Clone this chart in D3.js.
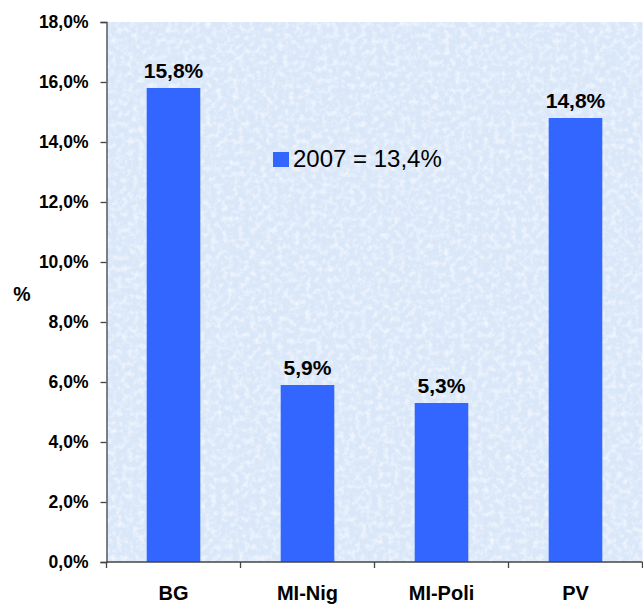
<!DOCTYPE html>
<html><head><meta charset="utf-8">
<script src="https://cdn.jsdelivr.net/npm/d3@7"></script>
<style>body{margin:0;background:#fff;} svg{display:block;font-family:"Liberation Sans",Arial,sans-serif;}</style>
</head><body>
<svg id="chart" width="643" height="604"></svg>
<script>
const categories = ["BG", "MI-Nig", "MI-Poli", "PV"];
const values = [15.8, 5.9, 5.3, 14.8];
const yTicks = [0, 2, 4, 6, 8, 10, 12, 14, 16, 18];
const legendLabel = "2007 = 13,4%";
const yTitle = "%";

const fmt = v => d3.format(".1f")(v).replace(".", ",") + "%";
const svg = d3.select("#chart");
const pLeft = 106.5, pRight = 642.5, pTop = 22, pBottom = 562;

const x = d3.scaleBand().domain(categories).range([pLeft, pRight]).paddingInner(0.6).paddingOuter(0.3);
const y = d3.scaleLinear().domain([0, 18]).range([pBottom, pTop]);

const defs = svg.append("defs");
const f = defs.append("filter").attr("id", "tex").attr("x", 0).attr("y", 0).attr("width", 1).attr("height", 1);
f.append("feTurbulence").attr("type", "fractalNoise").attr("baseFrequency", 0.18).attr("numOctaves", 3).attr("seed", 7).attr("result", "n");
f.append("feColorMatrix").attr("in", "n").attr("type", "matrix")
  .attr("values", "0 0 0 0 1  0 0 0 0 1  0 0 0 0 1  0 0 0 1.4 -0.6").attr("result", "w");
f.append("feComposite").attr("in", "w").attr("in2", "SourceGraphic").attr("operator", "over");

svg.append("rect").attr("x", pLeft).attr("y", pTop).attr("width", pRight - pLeft).attr("height", pBottom - pTop)
  .attr("fill", "#d9e7f9").attr("filter", "url(#tex)");

// bars
svg.selectAll(".bar").data(values).join("rect")
  .attr("x", (d, i) => x(categories[i])).attr("width", x.bandwidth())
  .attr("y", d => y(d)).attr("height", d => y(0) - y(d)).attr("fill", "#3366ff");

svg.selectAll(".vl").data(values).join("text")
  .attr("x", (d, i) => x(categories[i]) + x.bandwidth() / 2).attr("y", d => y(d) - 10)
  .attr("text-anchor", "middle").attr("font-weight", "bold").attr("font-size", 21).attr("fill", "#000")
  .text(d => fmt(d));

// y axis
const ya = svg.append("g").attr("transform", `translate(${pLeft},0)`)
  .call(d3.axisLeft(y).tickValues(yTicks).tickFormat(fmt).tickSize(6).tickPadding(12));
ya.select(".domain").attr("stroke", "#444").attr("stroke-width", 1.3);
ya.selectAll(".tick line").attr("stroke", "#444").attr("stroke-width", 1.3);
ya.selectAll("text").attr("font-size", 17.5).attr("font-weight", "bold").attr("fill", "#000")
  .attr("font-family", "'Liberation Sans',Arial,sans-serif");

// x axis
const xa = svg.append("g").attr("transform", `translate(0,${pBottom})`);
xa.append("line").attr("x1", pLeft).attr("x2", pRight).attr("stroke", "#444").attr("stroke-width", 1.3);
const bounds = d3.range(categories.length + 1).map(i => pLeft + i * (pRight - pLeft) / categories.length);
xa.selectAll(".tk").data(bounds).join("line").attr("x1", d => d).attr("x2", d => d).attr("y1", 0).attr("y2", 6)
  .attr("stroke", "#444").attr("stroke-width", 1.3);
xa.selectAll(".cl").data(categories).join("text")
  .attr("x", d => x(d) + x.bandwidth() / 2).attr("y", 38).attr("text-anchor", "middle")
  .attr("font-weight", "bold").attr("font-size", 20).attr("fill", "#000").text(d => d);

// y title
svg.append("text").attr("x", 22).attr("y", 301).attr("text-anchor", "middle")
  .attr("font-weight", "bold").attr("font-size", 19.5).text(yTitle);

// legend
svg.append("rect").attr("x", 273).attr("y", 152).attr("width", 16).attr("height", 15).attr("fill", "#3366ff");
svg.append("text").attr("x", 293).attr("y", 167).attr("font-size", 24).attr("fill", "#000").text(legendLabel);
</script>
</body></html>
